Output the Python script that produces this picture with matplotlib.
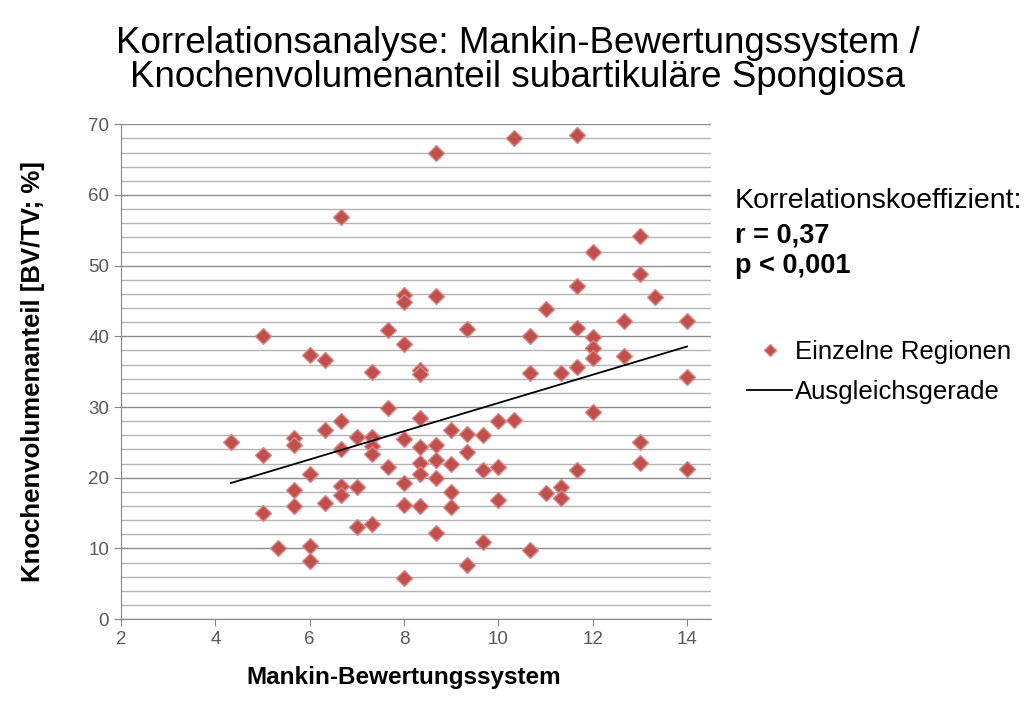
import numpy as np
import matplotlib
matplotlib.use("Agg")
import matplotlib.pyplot as plt
from matplotlib.lines import Line2D
from matplotlib.ticker import MultipleLocator

plt.rcParams['font.family'] = ['Liberation Sans', 'DejaVu Sans']

# Mankin score per region (mean of three ratings) and bone volume fraction BV/TV in %
mankin_score = [
    4.33,
    5.0, 5.0, 5.0,
    5.33,
    5.67, 5.67, 5.67, 5.67,
    6.0, 6.0, 6.0, 6.0,
    6.33, 6.33, 6.33,
    6.67, 6.67, 6.67, 6.67, 6.67,
    7.0, 7.0, 7.0,
    7.33, 7.33, 7.33, 7.33, 7.33,
    7.67, 7.67, 7.67,
    8.0, 8.0, 8.0, 8.0, 8.0, 8.0, 8.0,
    8.33, 8.33, 8.33, 8.33, 8.33, 8.33, 8.33,
    8.67, 8.67, 8.67, 8.67, 8.67, 8.67,
    9.0, 9.0, 9.0, 9.0,
    9.33, 9.33, 9.33, 9.33,
    9.67, 9.67, 9.67,
    10.0, 10.0, 10.0,
    10.33, 10.33,
    10.67, 10.67, 10.67,
    11.0, 11.0,
    11.33, 11.33, 11.33,
    11.67, 11.67, 11.67, 11.67, 11.67,
    12.0, 12.0, 12.0, 12.0, 12.0,
    12.67, 12.67,
    13.0, 13.0, 13.0, 13.0,
    13.33,
    14.0, 14.0, 14.0,
]
bv_tv = [
    25.0,
    40.1, 23.2, 15.0,
    10.0,
    25.6, 24.7, 18.3, 16.0,
    37.3, 20.5, 10.3, 8.2,
    36.6, 26.7, 16.5,
    56.9, 28.0, 24.0, 18.8, 17.6,
    25.7, 18.7, 13.1,
    35.0, 25.7, 24.5, 23.4, 13.4,
    40.9, 29.8, 21.5,
    45.9, 44.8, 38.9, 25.5, 19.3, 16.2, 5.8,
    35.2, 34.7, 28.5, 24.4, 22.1, 20.5, 16.0,
    66.0, 45.7, 24.6, 22.5, 19.9, 12.2,
    26.7, 22.0, 18.0, 15.8,
    41.1, 26.2, 23.7, 7.7,
    26.0, 21.1, 10.9,
    28.0, 21.5, 16.8,
    68.0, 28.2,
    40.0, 34.8, 9.8,
    43.8, 17.8,
    34.8, 18.7, 17.1,
    68.5, 47.1, 41.2, 35.6, 21.1,
    51.9, 39.9, 38.4, 37.0, 29.3,
    42.2, 37.2,
    54.2, 48.8, 25.1, 22.1,
    45.6,
    42.2, 34.3, 21.3,
]

stats_lines = ["r = 0,37", "p < 0,001"]

marker_color = '#C0504D'

fig = plt.figure(figsize=(10.29, 7.02), dpi=100)
ax = fig.add_axes([0.1176, 0.118, 0.573, 0.705])

ax.plot(mankin_score, bv_tv, linestyle='none', marker='D', markersize=8,
        markerfacecolor=marker_color, markeredgecolor='#d98886',
        markeredgewidth=1.0, zorder=3)

# linear fit across the observed score range
slope, intercept = np.polyfit(mankin_score, bv_tv, 1)
fit_x = np.array([min(mankin_score), max(mankin_score)])
ax.plot(fit_x, intercept + slope * fit_x, color='black', lw=1.3, zorder=4)

ax.set_xlim(2, 14.5)
ax.set_ylim(0, 70)
ax.set_xticks(range(2, 15, 2))
ax.set_yticks(range(0, 71, 10))
ax.yaxis.set_minor_locator(MultipleLocator(2))

ax.yaxis.grid(True, which='major', color='#8c8c8c', lw=1.0)
ax.yaxis.grid(True, which='minor', color='#b4b4b4', lw=1.0)
ax.set_axisbelow(True)

for side in ['top', 'right']:
    ax.spines[side].set_visible(False)
for side in ['left', 'bottom']:
    ax.spines[side].set_color('#868686')

ax.tick_params(axis='both', which='major', color='#868686', length=5,
               labelsize=13.5, labelcolor='#595959')
ax.tick_params(axis='y', which='minor', length=0)

ax.set_xlabel("Mankin-Bewertungssystem", fontsize=17.5, fontweight='bold')
ax.xaxis.set_label_coords(0.48, -0.095)
ax.set_ylabel("Knochenvolumenanteil [BV/TV; %]", fontsize=18.5, fontweight='bold', labelpad=31)

fig.text(0.503, 0.914, "Korrelationsanalyse: Mankin-Bewertungssystem /\n"
         "Knochenvolumenanteil subartikuläre Spongiosa",
         ha='center', va='center', fontsize=26.5, linespacing=0.97)

fig.text(0.714, 0.713, "Korrelationskoeffizient:", fontsize=20.5, va='center')
fig.text(0.714, 0.665, stats_lines[0], fontsize=19.5, fontweight='bold', va='center')
fig.text(0.714, 0.621, stats_lines[1], fontsize=19.5, fontweight='bold', va='center')

handles = [
    Line2D([], [], linestyle='none', marker='D', markersize=6,
           markerfacecolor=marker_color, markeredgecolor='#d98886'),
    Line2D([], [], color='black', lw=1.3),
]
fig.legend(handles, ["Einzelne Regionen", "Ausgleichsgerade"],
           loc='upper left', bbox_to_anchor=(0.726, 0.515), frameon=False,
           borderpad=0, borderaxespad=0, fontsize=18.5, handlelength=1.75,
           handletextpad=0.1, labelspacing=0.6)

fig.savefig("out.png", dpi=100)
